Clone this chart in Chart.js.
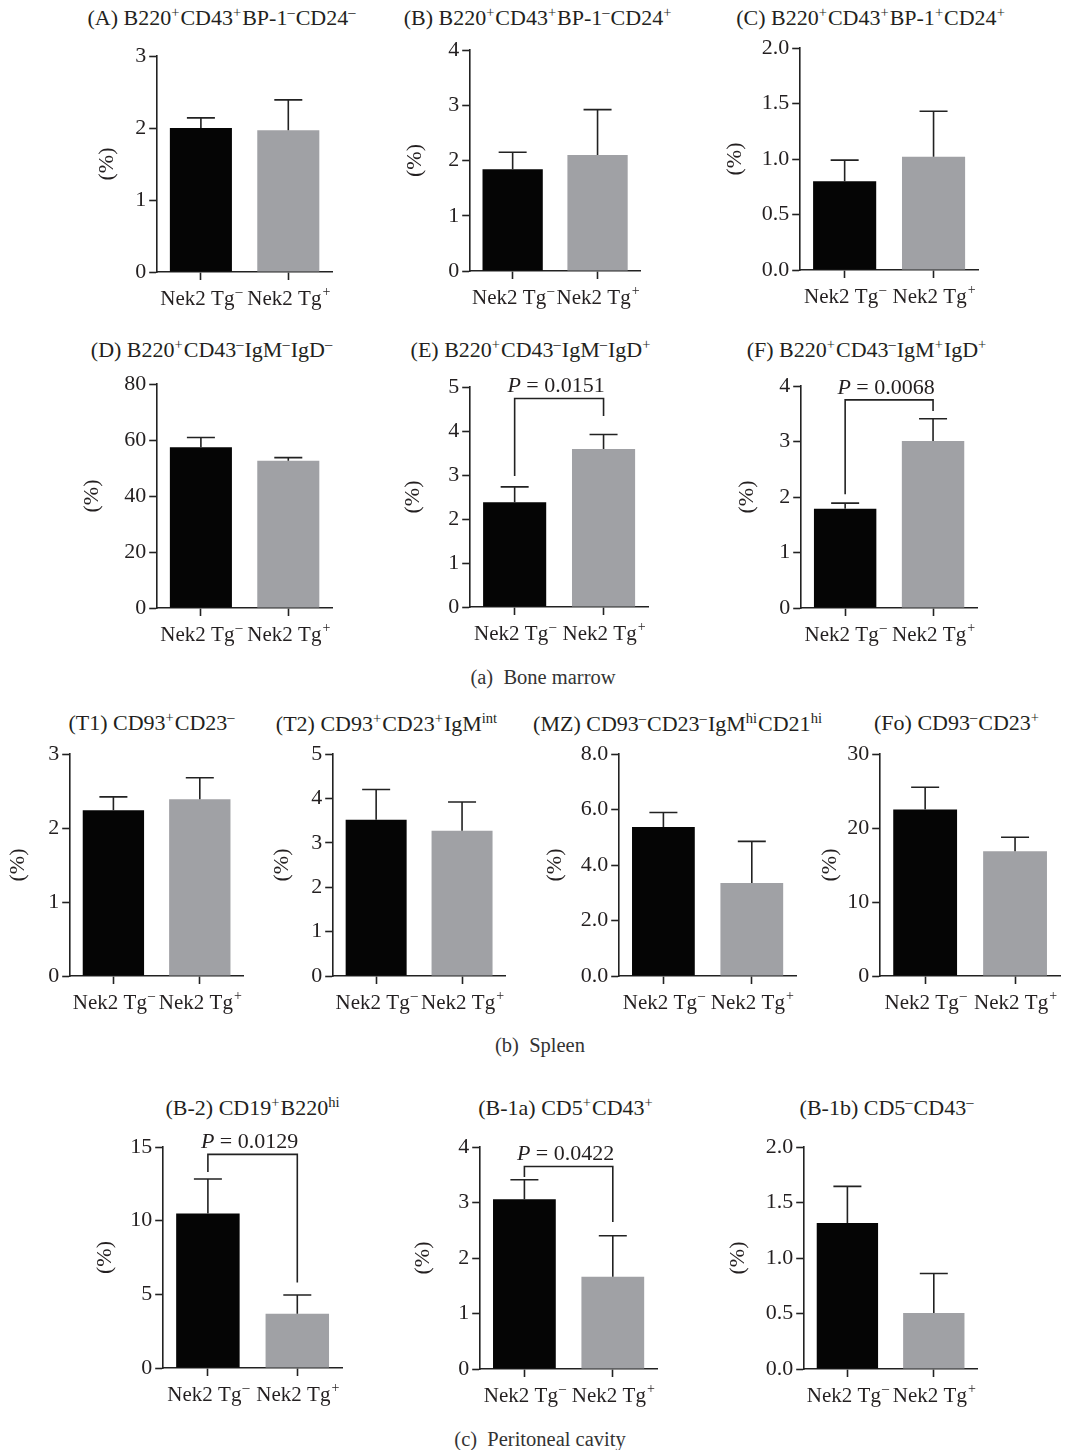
<!DOCTYPE html>
<html>
<head>
<meta charset="utf-8">
<script src="https://cdn.jsdelivr.net/npm/chart.js@4.4.1/dist/chart.umd.min.js"></script>
<style>
  body { margin: 0; background: #fff; }
  #fig { position: relative; width: 1081px; height: 1450px; overflow: hidden; font-family: "Liberation Serif", "DejaVu Serif", serif; color: #231f20; }
  #fig canvas { position: absolute; }
  .ttl { position: absolute; width: 440px; text-align: center; font-size: 22px; line-height: 1; white-space: nowrap; }
  .ttl sup { font-size: 66%; vertical-align: 0; position: relative; top: -0.55em; margin-right: 1px; }
  .cap { position: absolute; width: 400px; text-align: center; font-size: 20.5px; line-height: 1; color: #333; }
</style>
</head>
<body>
<div id="fig"></div>
<script>
// groups on the x axis
const groups = ["Nek2 Tg\u207B", "Nek2 Tg\u207A"];

// bone marrow: mean (%) and SEM
const meanA = [2.00, 1.97],  semA = [0.14, 0.42];
const meanB = [1.84, 2.10],  semB = [0.31, 0.82];
const meanC = [0.80, 1.02],  semC = [0.19, 0.41];
const meanD = [57.4, 52.6],  semD = [3.5, 1.1];
const meanE = [2.38, 3.59],  semE = [0.35, 0.33];
const meanF = [1.79, 3.01],  semF = [0.10, 0.40];
// spleen
const meanT1 = [2.24, 2.39], semT1 = [0.18, 0.29];
const meanT2 = [3.52, 3.27], semT2 = [0.68, 0.65];
const meanMZ = [5.37, 3.35], semMZ = [0.52, 1.50];
const meanFo = [22.5, 16.85], semFo = [3.0, 1.9];
// peritoneal cavity
const meanB2 = [10.48, 3.69], semB2 = [2.35, 1.26];
const meanB1a = [3.06, 1.66], semB1a = [0.35, 0.74];
const meanB1b = [1.315, 0.505], semB1b = [0.33, 0.355];

// y axis ranges
const yMax  = { A: 3, B: 4, C: 2, D: 80, E: 5, F: 4, T1: 3, T2: 5, MZ: 8, Fo: 30, B2: 15, B1a: 4, B1b: 2 };
const yStep = { A: 1, B: 1, C: 0.5, D: 20, E: 1, F: 1, T1: 1, T2: 1, MZ: 2, Fo: 10, B2: 5, B1a: 1, B1b: 0.5 };

// significance brackets: [left leg end, bar height, right leg end]
const bracketE = [2.98, 4.74, 4.34],  pE = "0.0151";
const bracketF = [2.05, 3.75, 3.55],  pF = "0.0068";
const bracketB2 = [13.3, 14.5, 5.81], pB2 = "0.0129";
const bracketB1a = [3.46, 3.65, 2.65], pB1a = "0.0422";

const FONT = '"Liberation Serif", "DejaVu Serif", serif';
const INK = '#231f20';
const LINE = '#222';
const barColors = ['#050505', '#a0a1a5'];

const errorBars = {
  id: 'errorBars',
  afterDatasetsDraw(chart, args, opts) {
    const ctx = chart.ctx, y = chart.scales.y;
    const ds = chart.data.datasets[0];
    const bars = chart.getDatasetMeta(0).data;
    ctx.save();
    ctx.strokeStyle = LINE;
    ctx.lineWidth = 1.6;
    bars.forEach((bar, i) => {
      const top = y.getPixelForValue(ds.data[i] + opts.sem[i]);
      ctx.beginPath();
      ctx.moveTo(bar.x, bar.y);
      ctx.lineTo(bar.x, top);
      ctx.moveTo(bar.x - 14, top);
      ctx.lineTo(bar.x + 14, top);
      ctx.stroke();
    });
    if (opts.bracket) {
      const b = opts.bracket;
      const x0 = bars[0].x, x1 = bars[1].x;
      const yt = y.getPixelForValue(b[1]);
      ctx.beginPath();
      ctx.moveTo(x0, y.getPixelForValue(b[0]));
      ctx.lineTo(x0, yt);
      ctx.lineTo(x1, yt);
      ctx.lineTo(x1, y.getPixelForValue(b[2]));
      ctx.stroke();
      ctx.fillStyle = INK;
      ctx.textBaseline = 'alphabetic';
      ctx.font = 'italic 22px ' + FONT;
      const pW = ctx.measureText('P').width;
      ctx.font = '22px ' + FONT;
      const rest = ' = ' + opts.p;
      const rW = ctx.measureText(rest).width;
      const sx = (x0 + x1) / 2 - (pW + rW) / 2 - 3;
      const by = yt - 6;
      ctx.font = 'italic 22px ' + FONT;
      ctx.fillText('P', sx, by);
      ctx.font = '22px ' + FONT;
      ctx.fillText(rest, sx + pW, by);
    }
    ctx.restore();
  }
};

// category labels with a true superscript sign
const xLabels = {
  id: 'xLabels',
  afterDraw(chart) {
    const ctx = chart.ctx, x = chart.scales.x;
    const base = chart.chartArea.bottom + 33;
    ctx.save();
    ctx.fillStyle = INK;
    ctx.textBaseline = 'alphabetic';
    ctx.textAlign = 'left';
    chart.data.labels.forEach((lab, i) => {
      const main = lab.slice(0, -1);
      const sign = lab.slice(-1) === '\u207A' ? '+' : '\u2013';
      ctx.font = '21px ' + FONT;
      const w1 = ctx.measureText(main).width;
      ctx.font = '14px ' + FONT;
      const w2 = ctx.measureText(sign).width;
      const sx = x.getPixelForValue(i) - (w1 + w2) / 2;
      ctx.font = '21px ' + FONT;
      ctx.fillText(main, sx, base);
      ctx.font = '14px ' + FONT;
      ctx.fillText(sign, sx + w1 + 1, base - 9);
    });
    ctx.restore();
  }
};

// panels: data refs and placement (axis x, top pixel, zero pixel, right end, "(%)" offset)
const panels = [
  { key: 'A', mean: meanA, sem: semA, dec: 0, ax: 157, top: 56, zero: 272, right: 332, d: 50 },
  { key: 'B', mean: meanB, sem: semB, dec: 0, ax: 470, top: 50, zero: 271, right: 640, d: 55 },
  { key: 'C', mean: meanC, sem: semC, dec: 1, ax: 800, top: 48, zero: 270, right: 978, d: 65 },
  { key: 'D', mean: meanD, sem: semD, dec: 0, ax: 157, top: 384, zero: 608, right: 332, d: 65 },
  { key: 'E', mean: meanE, sem: semE, dec: 0, ax: 470, top: 387, zero: 607, right: 648, d: 57, bracket: bracketE, p: pE },
  { key: 'F', mean: meanF, sem: semF, dec: 0, ax: 801, top: 386, zero: 608, right: 977, d: 54, bracket: bracketF, p: pF },
  { key: 'T1', mean: meanT1, sem: semT1, dec: 0, ax: 70, top: 754, zero: 976, right: 243, d: 52 },
  { key: 'T2', mean: meanT2, sem: semT2, dec: 0, ax: 333, top: 754, zero: 976, right: 505, d: 51 },
  { key: 'MZ', mean: meanMZ, sem: semMZ, dec: 1, ax: 619, top: 754, zero: 976, right: 796, d: 64 },
  { key: 'Fo', mean: meanFo, sem: semFo, dec: 0, ax: 880, top: 754, zero: 976, right: 1060, d: 50 },
  { key: 'B2', mean: meanB2, sem: semB2, dec: 0, ax: 163, top: 1147, zero: 1368, right: 342, d: 58, bracket: bracketB2, p: pB2 },
  { key: 'B1a', mean: meanB1a, sem: semB1a, dec: 0, ax: 480, top: 1147, zero: 1369, right: 657, d: 57, bracket: bracketB1a, p: pB1a },
  { key: 'B1b', mean: meanB1b, sem: semB1b, dec: 1, ax: 804, top: 1147, zero: 1369, right: 977, d: 66 }
];

const titles = [
  ['(A) B220<sup>+</sup>CD43<sup>+</sup>BP-1<sup>\u2013</sup>CD24<sup>\u2013</sup>', 222, 15],
  ['(B) B220<sup>+</sup>CD43<sup>+</sup>BP-1<sup>\u2013</sup>CD24<sup>+</sup>', 538, 15],
  ['(C) B220<sup>+</sup>CD43<sup>+</sup>BP-1<sup>+</sup>CD24<sup>+</sup>', 871, 15],
  ['(D) B220<sup>+</sup>CD43<sup>\u2013</sup>IgM<sup>\u2013</sup>IgD<sup>\u2013</sup>', 212, 347],
  ['(E) B220<sup>+</sup>CD43<sup>\u2013</sup>IgM<sup>\u2013</sup>IgD<sup>+</sup>', 531, 347],
  ['(F) B220<sup>+</sup>CD43<sup>\u2013</sup>IgM<sup>+</sup>IgD<sup>+</sup>', 867, 347],
  ['(T1) CD93<sup>+</sup>CD23<sup>\u2013</sup>', 152, 720],
  ['(T2) CD93<sup>+</sup>CD23<sup>+</sup>IgM<sup>int</sup>', 387, 721],
  ['(MZ) CD93<sup>\u2013</sup>CD23<sup>\u2013</sup>IgM<sup>hi</sup>CD21<sup>hi</sup>', 678, 721],
  ['(Fo) CD93<sup>\u2013</sup>CD23<sup>+</sup>', 957, 720],
  ['(B-2) CD19<sup>+</sup>B220<sup>hi</sup>', 253, 1105],
  ['(B-1a) CD5<sup>+</sup>CD43<sup>+</sup>', 566, 1105],
  ['(B-1b) CD5<sup>\u2013</sup>CD43<sup>\u2013</sup>', 887, 1105]
];

const captions = [
  ['(a)&nbsp; Bone marrow', 543, 677],
  ['(b)&nbsp; Spleen', 540, 1045],
  ['(c)&nbsp; Peritoneal cavity', 540, 1439]
];

const fig = document.getElementById('fig');

titles.forEach(([html, cx, cy]) => {
  const el = document.createElement('div');
  el.className = 'ttl';
  el.innerHTML = html;
  el.style.left = (cx - 220) + 'px';
  el.style.top = (cy - 8) + 'px';
  fig.appendChild(el);
});
captions.forEach(([html, cx, cy]) => {
  const el = document.createElement('div');
  el.className = 'cap';
  el.innerHTML = html;
  el.style.left = (cx - 200) + 'px';
  el.style.top = (cy - 10) + 'px';
  fig.appendChild(el);
});

const PAD_T = 22, PAD_R = 10, X_H = 50;

panels.forEach(p => {
  const W = p.d + 13.2;
  const left = p.ax - W, top = p.top - PAD_T;
  const cv = document.createElement('canvas');
  cv.width = Math.round(p.right - left + PAD_R);
  cv.height = Math.round(p.zero - top + X_H);
  cv.style.left = left + 'px';
  cv.style.top = top + 'px';
  cv.style.width = cv.width + 'px';
  cv.style.height = cv.height + 'px';
  fig.appendChild(cv);

  const tickFont = { family: FONT, size: 22 };
  new Chart(cv, {
    type: 'bar',
    data: {
      labels: groups,
      datasets: [{
        data: p.mean,
        backgroundColor: barColors,
        barPercentage: 0.71,
        categoryPercentage: 1
      }]
    },
    options: {
      responsive: false,
      maintainAspectRatio: false,
      animation: false,
      layout: { padding: { top: PAD_T, right: PAD_R, left: 0, bottom: 0 } },
      plugins: {
        legend: { display: false },
        tooltip: { enabled: false },
        errorBars: { sem: p.sem, bracket: p.bracket, p: p.p }
      },
      scales: {
        x: {
          grid: { offset: false, drawOnChartArea: false, tickLength: 8, tickWidth: 1.6, tickColor: LINE },
          border: { color: LINE, width: 1.6 },
          ticks: { display: false },
          afterFit: s => { s.height = X_H; }
        },
        y: {
          min: 0,
          max: yMax[p.key],
          ticks: {
            stepSize: yStep[p.key],
            color: INK,
            font: tickFont,
            padding: 3,
            callback: v => v.toFixed(p.dec)
          },
          grid: { drawOnChartArea: false, tickLength: 8, tickWidth: 1.6, tickColor: LINE },
          border: { color: LINE, width: 1.6 },
          title: { display: true, text: '(%)', color: INK, font: tickFont, padding: 0 },
          afterFit: s => { s.width = W; }
        }
      }
    },
    plugins: [errorBars, xLabels]
  });
});
</script>
</body>
</html>
